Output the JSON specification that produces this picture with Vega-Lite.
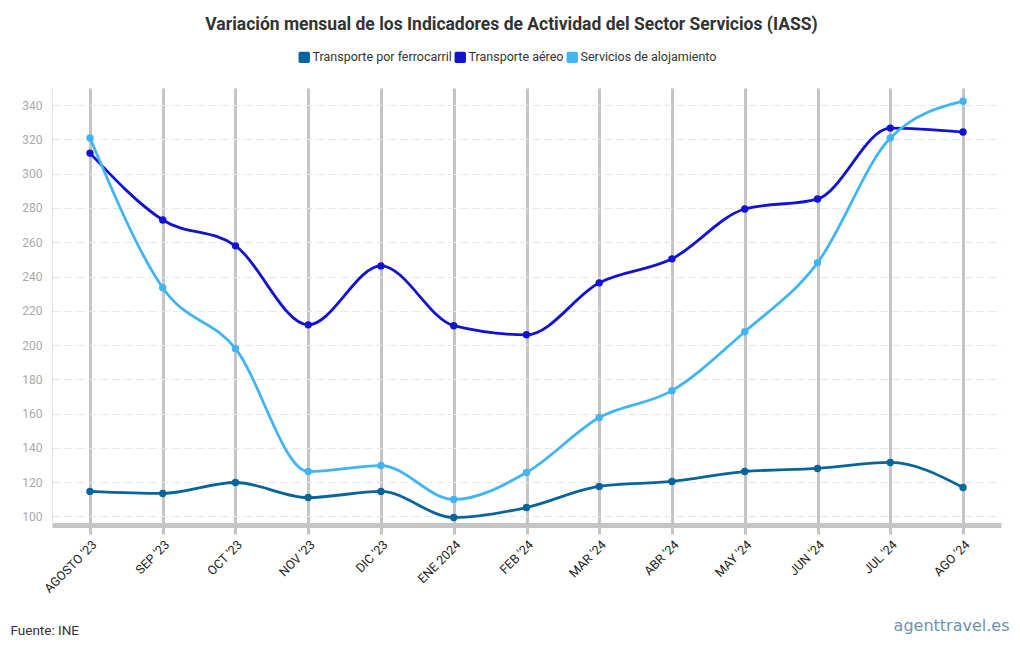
{
  "$schema": "https://vega.github.io/schema/vega-lite/v6.json",
  "autosize": {"type": "none"},
  "width": 949,
  "height": 437,
  "padding": {"left": 52, "top": 88, "right": 19, "bottom": 125},
  "background": "white",
  "title": {
    "text": "Variación mensual de los Indicadores de Actividad del Sector Servicios (IASS)",
    "font": "Roboto",
    "fontSize": 17.5,
    "fontWeight": "bold",
    "color": "#333333",
    "anchor": "middle",
    "frame": "group",
    "dx": -15,
    "offset": 18
  },
  "config": {
    "view": {"stroke": null},
    "font": "Roboto"
  },
  "data": {
    "values": [
      {"mes": "AGOSTO '23", "serie": "Transporte por ferrocarril", "valor": 114.6},
      {"mes": "SEP '23", "serie": "Transporte por ferrocarril", "valor": 113.4},
      {"mes": "OCT '23", "serie": "Transporte por ferrocarril", "valor": 119.8},
      {"mes": "NOV '23", "serie": "Transporte por ferrocarril", "valor": 111.0},
      {"mes": "DIC '23", "serie": "Transporte por ferrocarril", "valor": 114.6},
      {"mes": "ENE 2024", "serie": "Transporte por ferrocarril", "valor": 99.4},
      {"mes": "FEB '24", "serie": "Transporte por ferrocarril", "valor": 105.2},
      {"mes": "MAR '24", "serie": "Transporte por ferrocarril", "valor": 117.5},
      {"mes": "ABR '24", "serie": "Transporte por ferrocarril", "valor": 120.4},
      {"mes": "MAY '24", "serie": "Transporte por ferrocarril", "valor": 126.2},
      {"mes": "JUN '24", "serie": "Transporte por ferrocarril", "valor": 128.0},
      {"mes": "JUL '24", "serie": "Transporte por ferrocarril", "valor": 131.5},
      {"mes": "AGO '24", "serie": "Transporte por ferrocarril", "valor": 116.9},
      {"mes": "AGOSTO '23", "serie": "Transporte aéreo", "valor": 312.0},
      {"mes": "SEP '23", "serie": "Transporte aéreo", "valor": 273.0},
      {"mes": "OCT '23", "serie": "Transporte aéreo", "valor": 257.9},
      {"mes": "NOV '23", "serie": "Transporte aéreo", "valor": 211.8},
      {"mes": "DIC '23", "serie": "Transporte aéreo", "valor": 246.2},
      {"mes": "ENE 2024", "serie": "Transporte aéreo", "valor": 211.3},
      {"mes": "FEB '24", "serie": "Transporte aéreo", "valor": 206.0},
      {"mes": "MAR '24", "serie": "Transporte aéreo", "valor": 236.3},
      {"mes": "ABR '24", "serie": "Transporte aéreo", "valor": 250.3},
      {"mes": "MAY '24", "serie": "Transporte aéreo", "valor": 279.4},
      {"mes": "JUN '24", "serie": "Transporte aéreo", "valor": 285.2},
      {"mes": "JUL '24", "serie": "Transporte aéreo", "valor": 326.6},
      {"mes": "AGO '24", "serie": "Transporte aéreo", "valor": 324.3},
      {"mes": "AGOSTO '23", "serie": "Servicios de alojamiento", "valor": 320.8},
      {"mes": "SEP '23", "serie": "Servicios de alojamiento", "valor": 233.4},
      {"mes": "OCT '23", "serie": "Servicios de alojamiento", "valor": 197.9},
      {"mes": "NOV '23", "serie": "Servicios de alojamiento", "valor": 126.2},
      {"mes": "DIC '23", "serie": "Servicios de alojamiento", "valor": 129.7},
      {"mes": "ENE 2024", "serie": "Servicios de alojamiento", "valor": 109.9},
      {"mes": "FEB '24", "serie": "Servicios de alojamiento", "valor": 125.6},
      {"mes": "MAR '24", "serie": "Servicios de alojamiento", "valor": 157.7},
      {"mes": "ABR '24", "serie": "Servicios de alojamiento", "valor": 173.4},
      {"mes": "MAY '24", "serie": "Servicios de alojamiento", "valor": 207.8},
      {"mes": "JUN '24", "serie": "Servicios de alojamiento", "valor": 248.0},
      {"mes": "JUL '24", "serie": "Servicios de alojamiento", "valor": 320.8},
      {"mes": "AGO '24", "serie": "Servicios de alojamiento", "valor": 342.3}
    ]
  },
  "encoding": {
    "x": {
      "field": "mes",
      "type": "ordinal",
      "sort": null,
      "scale": {"type": "point", "padding": 0.522},
      "axis": {
        "title": "Fuente: INE",
        "titleFont": "Roboto",
        "titleFontSize": 13.5,
        "titleFontWeight": "normal",
        "titleColor": "#333333",
        "titleAlign": "left",
        "titleBaseline": "alphabetic",
        "titleX": -42,
        "titleY": 109,
        "labelAngle": -45,
        "labelAlign": "right",
        "labelBaseline": "top",
        "labelFont": "Roboto",
        "labelFontSize": 12.5,
        "labelColor": "#222222",
        "labelPadding": 4,
        "grid": true,
        "gridColor": "#c4c4c4",
        "gridWidth": 3,
        "tickColor": "#c4c4c4",
        "tickWidth": 3,
        "tickSize": 9,
        "domainColor": "#c4c4c4",
        "domainWidth": 5
      }
    },
    "y": {
      "field": "valor",
      "type": "quantitative",
      "scale": {"domain": [95, 350], "nice": false, "zero": false},
      "axis": {
        "values": [100, 120, 140, 160, 180, 200, 220, 240, 260, 280, 300, 320, 340],
        "title": "agenttravel.es",
        "titleAngle": 0,
        "titleFont": "DejaVu Sans",
        "titleFontSize": 16,
        "titleFontWeight": "normal",
        "titleColor": "#6a94b0",
        "titleAlign": "right",
        "titleBaseline": "alphabetic",
        "titleX": 957,
        "titleY": 542,
        "labelColor": "#aaaaaa",
        "labelFont": "Roboto",
        "labelFontSize": 12,
        "labelPadding": 10,
        "ticks": false,
        "grid": true,
        "gridColor": "#e6e6e6",
        "gridDash": [8, 4],
        "gridWidth": 1,
        "domainColor": "#e6e6e6",
        "domainWidth": 1
      }
    },
    "color": {
      "field": "serie",
      "type": "nominal",
      "sort": null,
      "scale": {
        "domain": ["Transporte por ferrocarril", "Transporte aéreo", "Servicios de alojamiento"],
        "range": ["#07659a", "#1212d4", "#41b5f3"]
      },
      "legend": {
        "title": null,
        "orient": "none",
        "direction": "horizontal",
        "legendX": 246,
        "legendY": -37,
        "labelFontSize": 12.5,
        "labelColor": "#333333",
        "labelFont": "Roboto",
        "symbolType": "M-0.7,-1 L0.7,-1 Q1,-1 1,-0.7 L1,0.7 Q1,1 0.7,1 L-0.7,1 Q-1,1 -1,0.7 L-1,-0.7 Q-1,-1 -0.7,-1 Z",
        "symbolSize": 130,
        "symbolStrokeWidth": 0,
        "symbolOpacity": 1,
        "columnPadding": 2,
        "labelOffset": 2
      }
    }
  },
  "layer": [
    {
      "mark": {"type": "line", "interpolate": "monotone", "strokeWidth": 2.8}
    },
    {
      "mark": {"type": "point", "filled": true, "size": 55, "opacity": 1}
    }
  ]
}
